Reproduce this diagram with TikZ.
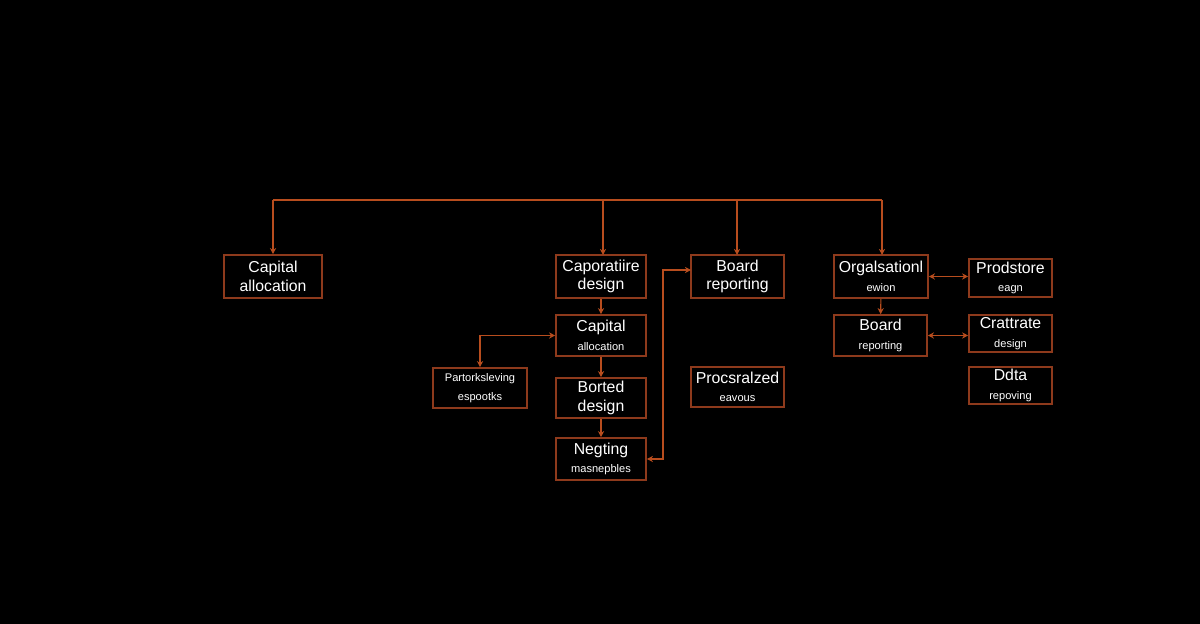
\documentclass[tikz,border=0pt]{standalone}
\usepackage{fontspec}
\setmainfont{Liberation Sans}
\usepackage{tikz}
\usetikzlibrary{arrows.meta}
\definecolor{boxline}{HTML}{8E3A1C}
\definecolor{arrline}{HTML}{B84D1E}
\newcommand{\smtxt}[1]{{\fontsize{6.3}{7.5}\selectfont #1}}
\tikzset{
  blk/.style={draw=boxline, line width=0.9pt, minimum height=0.82cm, align=center, text=white, inner sep=0pt, font=\fontsize{9}{10.5}\selectfont},
  con/.style={draw=arrline, line width=0.6pt, -{Stealth[length=3.5pt,width=3.5pt]}},
  con2/.style={draw=arrline, line width=0.6pt, {Stealth[length=3.5pt,width=3.5pt]}-{Stealth[length=3.5pt,width=3.5pt]}}
}
\begin{document}
\begin{tikzpicture}[x=0.02cm, y=-0.02cm]
					\fill [black] (0,0) rectangle (1200,624);
					\node [blk, minimum width=1.96cm, minimum height=0.86cm] (capa) at (273,276.5) {Capital\\allocation};
					\node [blk, minimum width=1.8cm, minimum height=0.86cm] (corp) at (601,276.5) {Caporatiire\\design};
					\node [blk, minimum width=1.8cm] (capb) at (601,335.5) {Capital\\\smtxt{allocation}};
					\node [blk, minimum width=1.88cm, minimum height=0.8cm] (part) at (480,388) {\smtxt{Partorksleving}\\\smtxt{espootks}};
					\node [blk, minimum width=1.8cm, minimum height=0.8cm] (bort) at (601,398) {Borted\\design};
					\node [blk, minimum width=1.8cm, minimum height=0.84cm] (negt) at (601,459) {Negting\\\smtxt{masnepbles}};
					\node [blk, minimum width=1.86cm, minimum height=0.86cm] (bdra) at (737.5,276.5) {Board\\reporting};
					\node [blk, minimum width=1.86cm, minimum height=0.8cm] (proc) at (737.5,387) {Procsralzed\\\smtxt{eavous}};
					\node [blk, minimum width=1.88cm, minimum height=0.86cm] (orgn) at (881,276.5) {Orgalsationl\\\smtxt{ewion}};
					\node [blk, minimum width=1.86cm] (bdrb) at (880.5,335.5) {Board\\\smtxt{reporting}};
					\node [blk, minimum width=1.66cm, minimum height=0.76cm] (prod) at (1010.5,278) {Prodstore\\\smtxt{eagn}};
					\node [blk, minimum width=1.66cm, minimum height=0.74cm] (crea) at (1010.5,333.5) {Crattrate\\\smtxt{design}};
					\node [blk, minimum width=1.66cm, minimum height=0.74cm] (data) at (1010.5,385.5) {Ddta\\\smtxt{repoving}};
					% top bus
					\coordinate (busa) at (273,200);
					\coordinate (busb) at (882,200);
					\draw [arrline, line width=0.6pt] (busa) -- (busb);
					\draw [con] (busa) -- (capa.north);
					\draw [con] (603,200) -- (603,255);
					\draw [con] (737,200) -- (737,255);
					\draw [con] (busb) -- (882,255);
					% middle column
					\draw [con] (corp) -- (capb);
					\draw [con] (capb) -- (bort);
					\draw [con] (bort) -- (negt);
					\draw [con2] (capb.west) -| (part.north);
					\draw [con2] (negt.east) -- (663,459) |- (691,270);
					% right side
					\draw [con] (orgn) -- (bdrb);
					\draw [con2] (orgn.east) -- (prod.west |- orgn.east);
					\draw [con2] (bdrb.east) -- (crea.west |- bdrb.east);
\end{tikzpicture}
\end{document}
